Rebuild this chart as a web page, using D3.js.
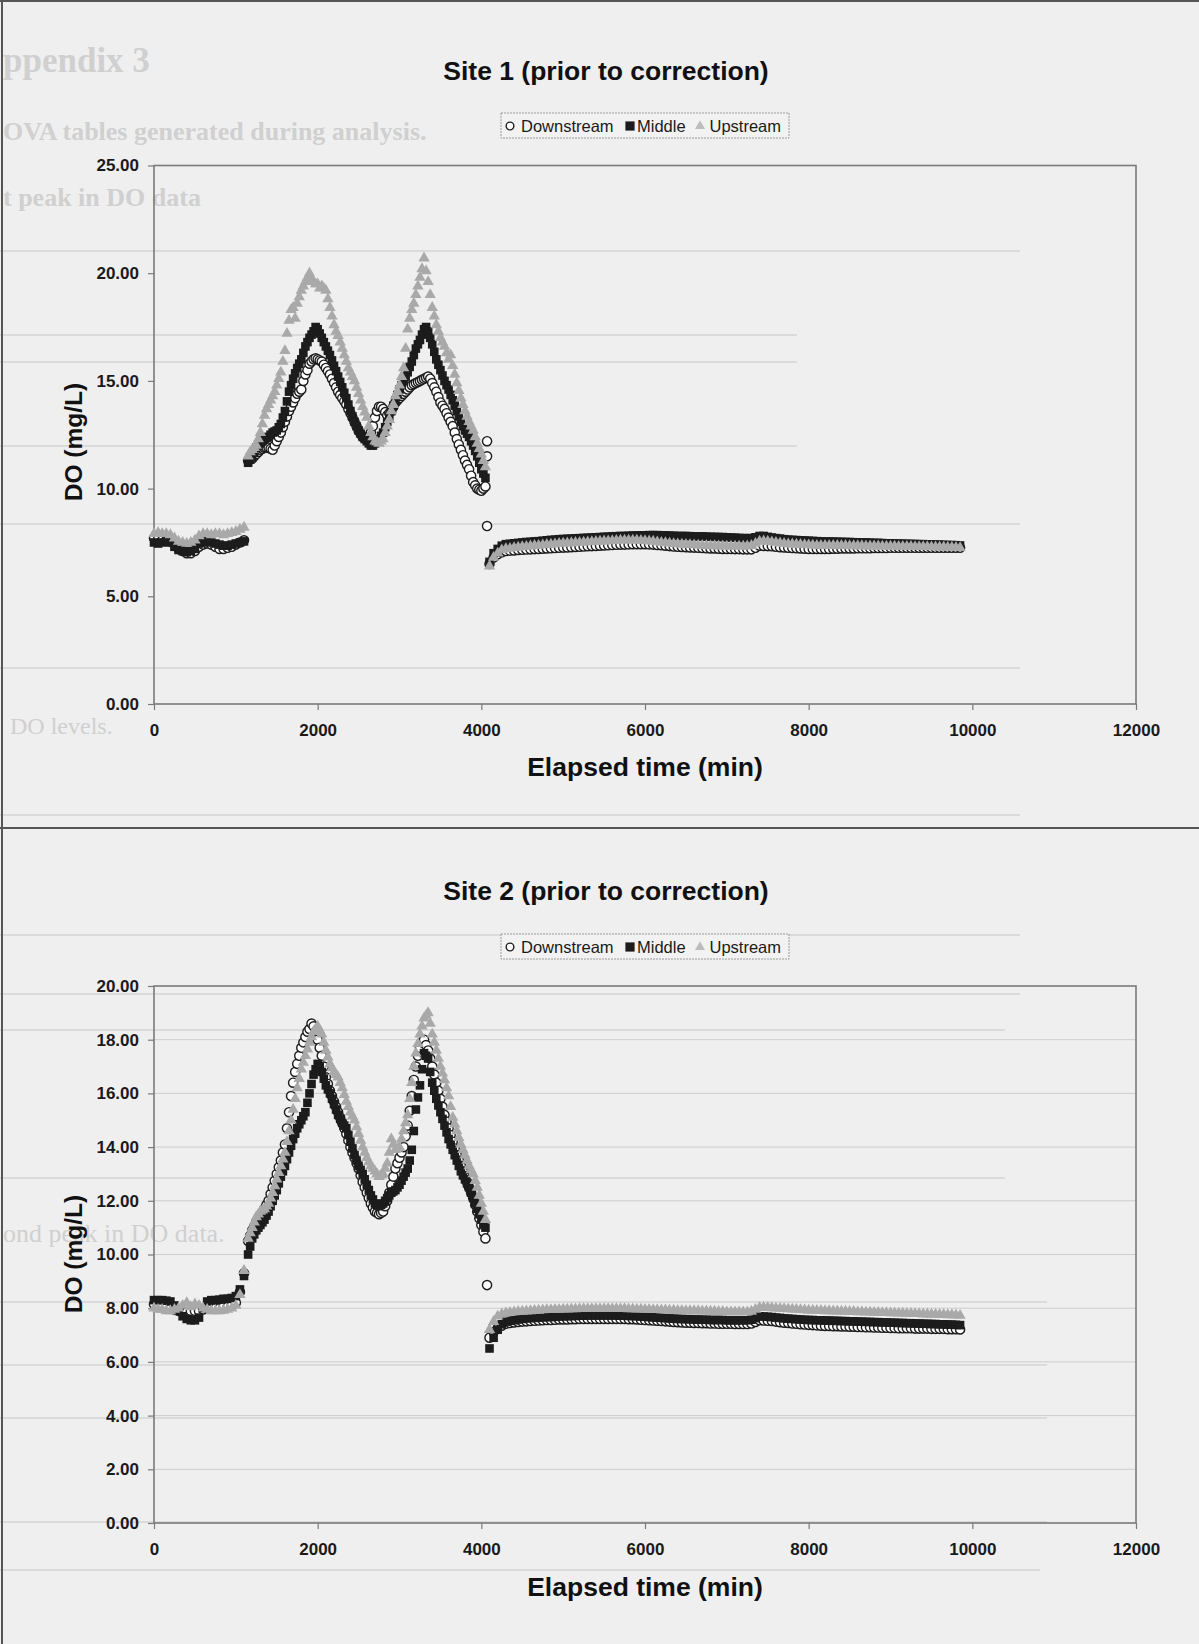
<!DOCTYPE html>
<html>
<head>
<meta charset="utf-8">
<script src="https://cdn.jsdelivr.net/npm/d3@7"></script>
<style>
  body { margin: 0; background: #efefef; }
  svg { display: block; }
  .tick text { font-family: "Liberation Sans", Arial, sans-serif; font-weight: bold; font-size: 17px; fill: #1a1a1a; }
</style>
</head>
<body>
<div id="chart"></div>
<script>
// sampling times (min) shared by every series
var times = [
  // first deployment
  0, 50, 100, 150, 200, 250, 300, 350, 400, 450, 500, 550, 600, 650, 700, 750, 800, 850, 900, 950, 1000, 1050, 1100,
  // diurnal peaks
  1150, 1175, 1200, 1225, 1250, 1275, 1300, 1325,
  1350, 1375, 1400, 1425, 1450, 1475, 1500, 1525,
  1550, 1575, 1600, 1625, 1650, 1675, 1700, 1725,
  1750, 1775, 1800, 1825, 1850, 1875, 1900, 1925,
  1950, 1975, 2000, 2025, 2050, 2075, 2100, 2125,
  2150, 2175, 2200, 2225, 2250, 2275, 2300, 2325,
  2350, 2375, 2400, 2425, 2450, 2475, 2500, 2525,
  2550, 2575, 2600, 2625, 2650, 2675, 2700, 2725,
  2750, 2775, 2800, 2825, 2850, 2875, 2900, 2925,
  2950, 2975, 3000, 3025, 3050, 3075, 3100, 3125,
  3150, 3175, 3200, 3225, 3250, 3275, 3300, 3325,
  3350, 3375, 3400, 3425, 3450, 3475, 3500, 3525,
  3550, 3575, 3600, 3625, 3650, 3675, 3700, 3725,
  3750, 3775, 3800, 3825, 3850, 3875, 3900, 3925,
  3950, 3975, 4000, 4025, 4050,
  // long flat stretch
  4100, 4150, 4200, 4250, 4300, 4350, 4400, 4450, 4500, 4550,
  4600, 4650, 4700, 4750, 4800, 4850, 4900, 4950, 5000, 5050,
  5100, 5150, 5200, 5250, 5300, 5350, 5400, 5450, 5500, 5550,
  5600, 5650, 5700, 5750, 5800, 5850, 5900, 5950, 6000, 6050,
  6100, 6150, 6200, 6250, 6300, 6350, 6400, 6450, 6500, 6550,
  6600, 6650, 6700, 6750, 6800, 6850, 6900, 6950, 7000, 7050,
  7100, 7150, 7200, 7250, 7300, 7350, 7400, 7450, 7500, 7550,
  7600, 7650, 7700, 7750, 7800, 7850, 7900, 7950, 8000, 8050,
  8100, 8150, 8200, 8250, 8300, 8350, 8400, 8450, 8500, 8550,
  8600, 8650, 8700, 8750, 8800, 8850, 8900, 8950, 9000, 9050,
  9100, 9150, 9200, 9250, 9300, 9350, 9400, 9450, 9500, 9550,
  9600, 9650, 9700, 9750, 9800, 9850
];

// Site 1, DO (mg/L)
var site1Down = [
  7.7, 7.65, 7.6, 7.6, 7.55, 7.4, 7.2, 7.1, 7.0, 7.0, 7.1, 7.3, 7.4, 7.45, 7.4, 7.3, 7.2, 7.2, 7.25, 7.3, 7.4, 7.5, 7.6,
  11.3, 11.35, 11.4, 11.5, 11.6, 11.7, 11.8, 11.85,
  11.9, 11.9, 11.9, 11.85, 11.8, 12.0, 12.2, 12.4,
  12.6, 12.85, 13.1, 13.35, 13.6, 13.8, 14.0, 14.2,
  14.4, 14.5, 14.6, 15.0, 15.3, 15.5, 15.8, 15.9,
  16.0, 16.05, 16.0, 15.95, 15.9, 15.75, 15.6, 15.45,
  15.3, 15.1, 14.9, 14.7, 14.5, 14.35, 14.2, 14.05,
  13.9, 13.7, 13.5, 13.3, 13.1, 12.9, 12.7, 12.55,
  12.4, 12.35, 12.3, 12.4, 12.6, 12.9, 13.3, 13.6,
  13.8, 13.8, 13.7, 13.55, 13.4, 13.5, 13.6, 13.8,
  14.0, 14.1, 14.2, 14.3, 14.4, 14.5, 14.6, 14.7,
  14.8, 14.85, 14.9, 14.95, 15.0, 15.05, 15.1, 15.15,
  15.2, 15.1, 14.9, 14.7, 14.5, 14.25, 14.0, 13.85,
  13.7, 13.5, 13.3, 13.1, 12.9, 12.6, 12.3, 12.05,
  11.8, 11.55, 11.3, 11.1, 10.9, 10.6, 10.3, 10.15,
  10.0, 9.95, 9.9, 10.0, 10.1,
  6.5, 6.8, 6.95, 7.05, 7.1, 7.12, 7.13, 7.15, 7.16, 7.17,
  7.18, 7.19, 7.2, 7.21, 7.22, 7.23, 7.24, 7.25, 7.26, 7.27,
  7.28, 7.29, 7.3, 7.31, 7.32, 7.33, 7.34, 7.35, 7.36, 7.37,
  7.38, 7.39, 7.4, 7.4, 7.41, 7.42, 7.42, 7.42, 7.42, 7.41,
  7.4, 7.38, 7.37, 7.35, 7.33, 7.31, 7.3, 7.29, 7.28, 7.27,
  7.26, 7.25, 7.24, 7.23, 7.22, 7.22, 7.21, 7.2, 7.2, 7.2,
  7.19, 7.19, 7.18, 7.18, 7.18, 7.25, 7.35, 7.34, 7.33, 7.32,
  7.3, 7.28, 7.27, 7.25, 7.24, 7.23, 7.22, 7.21, 7.2, 7.2,
  7.2, 7.2, 7.2, 7.2, 7.21, 7.21, 7.22, 7.22, 7.22, 7.22,
  7.23, 7.23, 7.23, 7.23, 7.24, 7.24, 7.24, 7.24, 7.25, 7.25,
  7.25, 7.25, 7.25, 7.25, 7.25, 7.25, 7.25, 7.25, 7.25, 7.25,
  7.25, 7.25, 7.25, 7.25, 7.25, 7.25
];
var site1Mid = [
  7.5, 7.45, 7.5, 7.55, 7.5, 7.3, 7.15, 7.1, 7.05, 7.1, 7.2, 7.45, 7.5, 7.55, 7.5, 7.45, 7.4, 7.35, 7.35, 7.4, 7.45, 7.5, 7.55,
  11.2, 11.35, 11.5, 11.7, 11.9, 12.0, 12.1, 12.2,
  12.3, 12.35, 12.4, 12.5, 12.6, 12.65, 12.7, 12.85,
  13.0, 13.3, 13.6, 14.05, 14.5, 14.8, 15.1, 15.35,
  15.6, 15.8, 16.0, 16.3, 16.6, 16.8, 17.0, 17.15,
  17.3, 17.5, 17.4, 17.2, 17.0, 16.8, 16.6, 16.4,
  16.2, 15.95, 15.7, 15.45, 15.2, 14.95, 14.7, 14.45,
  14.2, 13.9, 13.6, 13.35, 13.1, 12.9, 12.7, 12.55,
  12.4, 12.3, 12.2, 12.1, 12.0, 12.0, 12.1, 12.2,
  12.3, 12.45, 12.6, 12.85, 13.1, 13.35, 13.6, 13.85,
  14.1, 14.35, 14.6, 14.8, 15.0, 15.2, 15.4, 15.65,
  15.9, 16.2, 16.5, 16.7, 16.9, 17.15, 17.4, 17.5,
  17.3, 17.0, 16.7, 16.35, 16.0, 15.75, 15.5, 15.25,
  15.0, 14.8, 14.6, 14.35, 14.1, 13.85, 13.6, 13.35,
  13.1, 12.9, 12.7, 12.55, 12.4, 12.2, 12.0, 11.75,
  11.5, 11.2, 10.9, 10.7, 10.5,
  6.6, 7.0, 7.2, 7.35, 7.42, 7.44, 7.46, 7.48, 7.5, 7.52,
  7.53, 7.55, 7.56, 7.58, 7.6, 7.62, 7.63, 7.65, 7.66, 7.67,
  7.68, 7.69, 7.7, 7.71, 7.72, 7.73, 7.74, 7.75, 7.76, 7.77,
  7.78, 7.79, 7.8, 7.8, 7.81, 7.82, 7.82, 7.83, 7.83, 7.84,
  7.84, 7.84, 7.83, 7.83, 7.82, 7.81, 7.8, 7.8, 7.8, 7.79,
  7.78, 7.78, 7.78, 7.77, 7.76, 7.76, 7.75, 7.75, 7.74, 7.73,
  7.72, 7.71, 7.7, 7.7, 7.7, 7.74, 7.8, 7.8, 7.76, 7.73,
  7.7, 7.68, 7.65, 7.63, 7.62, 7.61, 7.6, 7.59, 7.58, 7.57,
  7.56, 7.55, 7.54, 7.54, 7.54, 7.53, 7.53, 7.52, 7.52, 7.51,
  7.5, 7.5, 7.5, 7.49, 7.48, 7.48, 7.47, 7.46, 7.46, 7.45,
  7.45, 7.44, 7.44, 7.43, 7.43, 7.42, 7.42, 7.41, 7.41, 7.4,
  7.4, 7.39, 7.38, 7.38, 7.37, 7.36
];
var site1Up = [
  7.9, 7.95, 7.9, 7.9, 7.85, 7.7, 7.55, 7.5, 7.45, 7.5, 7.6, 7.8, 7.9, 7.9, 7.85, 7.9, 7.9, 7.85, 7.9, 7.95, 8.0, 8.1, 8.2,
  11.5, 11.7, 11.8, 11.9, 12.0, 12.3, 12.6, 13.0,
  13.4, 13.7, 13.9, 14.1, 14.3, 14.5, 14.8, 15.1,
  15.4, 15.9, 16.4, 17.2, 17.8, 18.3, 18.4, 17.9,
  18.6, 18.9, 19.2, 19.4, 19.6, 19.8, 20.0, 19.7,
  19.6, 19.5, 19.5, 19.3, 19.4, 19.3, 19.2, 18.8,
  18.4, 18.0, 17.6, 17.3, 17.1, 16.8, 16.5, 16.2,
  15.9, 15.6, 15.4, 15.2, 15.0, 14.7, 14.4, 14.1,
  13.8, 13.55, 13.3, 12.9, 12.6, 12.4, 12.2, 12.15,
  12.1, 12.2, 12.3, 12.6, 12.9, 13.2, 13.6, 13.9,
  14.3, 14.5, 14.8, 15.2, 15.6, 16.5, 17.4, 17.9,
  18.3, 18.6, 19.0, 19.4, 19.8, 20.2, 20.7, 20.1,
  19.6, 19.0, 18.4, 18.0, 17.6, 17.3, 17.0, 16.8,
  16.6, 16.3, 16.0, 16.2, 15.7, 15.3, 14.9, 14.55,
  14.2, 13.9, 13.6, 13.35, 13.1, 12.9, 12.7, 12.4,
  12.1, 11.85, 11.6, 11.3, 11.0,
  6.4, 6.8, 7.0, 7.15, 7.2, 7.22, 7.25, 7.27, 7.3, 7.31,
  7.33, 7.35, 7.36, 7.38, 7.4, 7.41, 7.43, 7.45, 7.46, 7.47,
  7.48, 7.49, 7.5, 7.51, 7.52, 7.53, 7.54, 7.55, 7.56, 7.57,
  7.58, 7.59, 7.6, 7.6, 7.6, 7.6, 7.6, 7.59, 7.58, 7.56,
  7.55, 7.52, 7.5, 7.48, 7.46, 7.44, 7.43, 7.41, 7.4, 7.39,
  7.38, 7.37, 7.36, 7.35, 7.34, 7.34, 7.33, 7.33, 7.32, 7.32,
  7.32, 7.32, 7.32, 7.33, 7.35, 7.45, 7.55, 7.56, 7.55, 7.52,
  7.5, 7.47, 7.45, 7.43, 7.42, 7.41, 7.4, 7.39, 7.38, 7.37,
  7.36, 7.36, 7.35, 7.35, 7.35, 7.35, 7.35, 7.35, 7.34, 7.34,
  7.34, 7.34, 7.33, 7.33, 7.33, 7.33, 7.32, 7.32, 7.32, 7.32,
  7.31, 7.31, 7.31, 7.31, 7.3, 7.3, 7.3, 7.3, 7.29, 7.29,
  7.28, 7.28, 7.27, 7.27, 7.26, 7.25
];
// stray downstream readings at the probe change [time, DO]
var site1DownExtra = [[4070, 12.2], [4070, 11.5], [4070, 8.26]];

// Site 2, DO (mg/L)
var site2Down = [
  8.15, 8.1, 8.1, 8.05, 8.0, 7.95, 7.9, 7.85, 7.85, 7.9, 7.9, 7.9, 7.95, 8.0, 8.0, 8.0, 8.0, 8.05, 8.05, 8.1, 8.2, 8.6, 9.3,
  10.5, 10.7, 10.9, 11.05, 11.2, 11.3, 11.4, 11.55,
  11.7, 11.85, 12.0, 12.25, 12.5, 12.75, 13.0, 13.25,
  13.5, 13.8, 14.1, 14.7, 15.3, 15.9, 16.4, 16.8,
  17.1, 17.4, 17.7, 17.9, 18.1, 18.3, 18.4, 18.6,
  18.5, 18.3, 18.0, 17.7, 17.4, 17.0, 16.6, 16.35,
  16.1, 15.9, 15.7, 15.5, 15.3, 15.1, 14.9, 14.7,
  14.5, 14.25, 14.0, 13.8, 13.6, 13.4, 13.2, 12.95,
  12.7, 12.5, 12.3, 12.1, 11.9, 11.75, 11.6, 11.55,
  11.5, 11.55, 11.6, 11.8, 12.0, 12.3, 12.6, 12.9,
  13.2, 13.4, 13.6, 13.8, 14.0, 14.4, 14.8, 15.35,
  15.9, 16.5, 17.0, 17.4, 17.7, 17.9, 18.0, 17.8,
  17.6, 17.3, 17.0, 16.7, 16.4, 16.1, 15.8, 15.5,
  15.2, 14.95, 14.7, 14.45, 14.2, 13.95, 13.7, 13.5,
  13.3, 13.1, 12.9, 12.7, 12.5, 12.3, 12.1, 11.85,
  11.6, 11.35, 11.1, 10.85, 10.6,
  6.9, 7.1, 7.25, 7.35, 7.42, 7.45, 7.47, 7.49, 7.5, 7.51,
  7.52, 7.53, 7.54, 7.55, 7.56, 7.56, 7.57, 7.58, 7.58, 7.58,
  7.59, 7.59, 7.6, 7.6, 7.6, 7.6, 7.6, 7.6, 7.6, 7.6,
  7.6, 7.6, 7.6, 7.6, 7.59, 7.59, 7.58, 7.57, 7.56, 7.55,
  7.54, 7.53, 7.52, 7.51, 7.5, 7.49, 7.48, 7.47, 7.46, 7.46,
  7.45, 7.45, 7.44, 7.44, 7.43, 7.43, 7.42, 7.42, 7.42, 7.42,
  7.41, 7.41, 7.41, 7.41, 7.43, 7.49, 7.55, 7.54, 7.53, 7.52,
  7.5, 7.48, 7.46, 7.45, 7.43, 7.42, 7.4, 7.39, 7.38, 7.37,
  7.36, 7.35, 7.34, 7.34, 7.33, 7.33, 7.32, 7.32, 7.31, 7.31,
  7.3, 7.3, 7.29, 7.29, 7.28, 7.28, 7.27, 7.27, 7.26, 7.26,
  7.25, 7.25, 7.25, 7.25, 7.24, 7.24, 7.24, 7.24, 7.23, 7.23,
  7.23, 7.23, 7.22, 7.22, 7.22, 7.21
];
var site2Mid = [
  8.3, 8.3, 8.3, 8.28, 8.25, 8.1, 7.9, 7.7, 7.6, 7.55, 7.55, 7.65, 8.0, 8.25, 8.3, 8.3, 8.32, 8.35, 8.35, 8.38, 8.45, 8.7, 9.2,
  10.0, 10.3, 10.6, 10.75, 10.9, 11.0, 11.1, 11.2,
  11.3, 11.45, 11.6, 11.8, 12.0, 12.2, 12.4, 12.65,
  12.9, 13.1, 13.3, 13.55, 13.8, 14.05, 14.3, 14.5,
  14.7, 14.85, 15.0, 15.15, 15.3, 15.65, 16.0, 16.35,
  16.7, 16.9, 17.1, 17.0, 16.8, 16.55, 16.3, 16.15,
  16.0, 15.8, 15.6, 15.4, 15.2, 15.05, 14.9, 14.8,
  14.7, 14.45, 14.2, 13.95, 13.7, 13.5, 13.3, 13.15,
  13.0, 12.8, 12.6, 12.4, 12.2, 12.05, 11.9, 11.85,
  11.8, 11.85, 11.9, 12.0, 12.1, 12.2, 12.3, 12.35,
  12.4, 12.5, 12.6, 12.75, 12.9, 13.05, 13.2, 13.5,
  13.9, 14.6, 15.4, 15.85, 16.3, 16.9, 17.5, 17.4,
  17.3, 16.8, 16.4, 16.1, 15.8, 15.55, 15.3, 15.05,
  14.8, 14.55, 14.3, 14.1, 13.9, 13.7, 13.5, 13.3,
  13.1, 12.95, 12.8, 12.65, 12.5, 12.3, 12.1, 11.9,
  11.7, 11.5, 11.3, 11.15, 11.0,
  6.5, 6.9, 7.2, 7.4, 7.5, 7.53, 7.55, 7.58, 7.6, 7.62,
  7.63, 7.64, 7.65, 7.66, 7.67, 7.67, 7.68, 7.69, 7.7, 7.7,
  7.71, 7.71, 7.72, 7.72, 7.73, 7.73, 7.73, 7.73, 7.73, 7.73,
  7.73, 7.73, 7.72, 7.72, 7.71, 7.71, 7.7, 7.69, 7.68, 7.67,
  7.66, 7.65, 7.64, 7.63, 7.62, 7.61, 7.6, 7.6, 7.59, 7.59,
  7.58, 7.58, 7.57, 7.57, 7.56, 7.56, 7.56, 7.56, 7.55, 7.55,
  7.55, 7.55, 7.55, 7.55, 7.57, 7.63, 7.7, 7.69, 7.68, 7.67,
  7.65, 7.64, 7.62, 7.61, 7.6, 7.59, 7.58, 7.57, 7.56, 7.56,
  7.55, 7.55, 7.54, 7.54, 7.53, 7.53, 7.52, 7.52, 7.51, 7.51,
  7.5, 7.5, 7.49, 7.49, 7.48, 7.48, 7.47, 7.47, 7.46, 7.46,
  7.45, 7.45, 7.44, 7.44, 7.43, 7.43, 7.42, 7.42, 7.41, 7.41,
  7.4, 7.4, 7.39, 7.39, 7.38, 7.37
];
var site2Up = [
  8.0, 7.95, 7.95, 7.9, 7.9, 7.95, 8.0, 8.1, 8.2, 8.05, 8.15, 8.1, 8.0, 7.95, 7.9, 7.9, 7.9, 7.92, 7.95, 8.0, 8.1, 8.5, 9.4,
  10.6, 10.8, 11.0, 11.2, 11.4, 11.5, 11.6, 11.65,
  11.7, 11.8, 11.9, 12.1, 12.3, 12.55, 12.8, 13.05,
  13.3, 13.55, 13.8, 14.2, 14.6, 15.0, 15.4, 15.8,
  16.2, 16.55, 16.9, 17.15, 17.4, 17.65, 17.9, 18.1,
  18.3, 18.4, 18.5, 18.35, 18.2, 17.9, 17.6, 17.35,
  17.1, 16.95, 16.8, 16.7, 16.6, 16.4, 16.2, 15.95,
  15.7, 15.5, 15.3, 15.15, 15.0, 14.75, 14.5, 14.25,
  14.0, 13.8, 13.6, 13.45, 13.3, 13.2, 13.1, 13.0,
  12.9, 12.95, 13.0, 13.2, 13.4, 13.8, 14.3, 14.1,
  13.9, 13.95, 14.0, 14.3, 14.6, 14.9, 15.2, 15.8,
  16.4, 17.0, 17.5, 17.85, 18.2, 18.5, 18.8, 18.9,
  19.0, 18.6, 18.2, 17.9, 17.6, 17.3, 17.0, 16.75,
  16.5, 16.2, 15.9, 15.5, 15.1, 14.85, 14.6, 14.35,
  14.1, 13.9, 13.7, 13.5, 13.3, 13.15, 13.0, 12.75,
  12.5, 12.2, 11.9, 11.6, 11.3,
  7.2, 7.5, 7.7, 7.78, 7.82, 7.84, 7.86, 7.87, 7.88, 7.89,
  7.9, 7.91, 7.92, 7.93, 7.94, 7.94, 7.95, 7.95, 7.96, 7.96,
  7.97, 7.97, 7.98, 7.98, 7.98, 7.98, 7.98, 7.98, 7.98, 7.98,
  7.98, 7.98, 7.98, 7.98, 7.97, 7.97, 7.96, 7.96, 7.95, 7.95,
  7.94, 7.94, 7.93, 7.93, 7.92, 7.92, 7.91, 7.91, 7.9, 7.9,
  7.9, 7.9, 7.89, 7.89, 7.88, 7.88, 7.87, 7.87, 7.86, 7.86,
  7.86, 7.86, 7.86, 7.86, 7.88, 7.95, 8.02, 8.02, 8.02, 8.01,
  8.0, 7.99, 7.98, 7.97, 7.96, 7.95, 7.94, 7.93, 7.92, 7.92,
  7.91, 7.91, 7.9, 7.9, 7.89, 7.89, 7.88, 7.88, 7.87, 7.87,
  7.86, 7.86, 7.85, 7.85, 7.84, 7.84, 7.83, 7.83, 7.82, 7.82,
  7.81, 7.81, 7.8, 7.8, 7.79, 7.79, 7.78, 7.78, 7.77, 7.77,
  7.76, 7.76, 7.75, 7.75, 7.74, 7.73
];
var site2DownExtra = [[4070, 8.86]];

var seriesNames = ["Downstream", "Middle", "Upstream"];
var xTicks = [0, 2000, 4000, 6000, 8000, 10000, 12000];
var site1YTicks = [0, 5, 10, 15, 20, 25];
var site2YTicks = [0, 2, 4, 6, 8, 10, 12, 14, 16, 18, 20];

var W = 1199, H = 1644;
var plotLeft = 154, plotRight = 1136;
var FONT = "'Liberation Sans', Arial, sans-serif";
var SERIF = "'Liberation Serif', 'Times New Roman', serif";

var svg = d3.select("#chart").append("svg")
    .attr("width", W)
    .attr("height", H);

svg.append("rect")
    .attr("width", W)
    .attr("height", H)
    .attr("fill", "#efefef");

drawBackdrop();

var symbols = {
    Downstream: d3.symbol().type(d3.symbolCircle).size(66),
    Middle: d3.symbol().type(d3.symbolSquare).size(74),
    Upstream: d3.symbol().type(d3.symbolTriangle).size(56)
};
var markStyle = {
    Downstream: {fill: "#ffffff", stroke: "#1c1c1c", width: 1.4},
    Middle: {fill: "#1c1c1c", stroke: "none", width: 0},
    Upstream: {fill: "#a9a9a9", stroke: "none", width: 0}
};

drawSite({
    title: "Site 1 (prior to correction)",
    values: [site1Down, site1Mid, site1Up],
    extra: site1DownExtra,
    yMax: 25, yTicks: site1YTicks, grid: false,
    top: 165.5, bottom: 704,
    titleY: 80, legendTop: 113, xTitleY: 776, yTitleY: 442
});

drawSite({
    title: "Site 2 (prior to correction)",
    values: [site2Down, site2Mid, site2Up],
    extra: site2DownExtra,
    yMax: 20, yTicks: site2YTicks, grid: true,
    top: 986, bottom: 1523,
    titleY: 900, legendTop: 934, xTitleY: 1596, yTitleY: 1254
});

function drawSite(cfg) {
    var g = svg.append("g");

    var x = d3.scaleLinear().domain([0, 12000]).range([plotLeft, plotRight]);
    var y = d3.scaleLinear().domain([0, cfg.yMax]).range([cfg.bottom, cfg.top]);

    // light horizontal gridlines (only the second chart has them)
    if (cfg.grid) {
        g.selectAll(".grid")
            .data(cfg.yTicks.filter(function(d) { return d > 0 && d < cfg.yMax; }))
            .enter()
            .append("line")
            .attr("x1", plotLeft).attr("x2", plotRight)
            .attr("y1", function(d) { return y(d); })
            .attr("y2", function(d) { return y(d); })
            .attr("stroke", "#cdcdcd")
            .attr("stroke-width", 1);
    }

    // axes
    var yAxis = d3.axisLeft(y)
        .tickValues(cfg.yTicks)
        .tickFormat(d3.format(".2f"))
        .tickSize(6)
        .tickPadding(9);
    var xAxis = d3.axisBottom(x)
        .tickValues(xTicks)
        .tickFormat(d3.format("d"))
        .tickSize(6)
        .tickPadding(14);

    var ya = g.append("g").attr("transform", "translate(" + plotLeft + ",0)").call(yAxis);
    var xa = g.append("g").attr("transform", "translate(0," + cfg.bottom + ")").call(xAxis);
    [ya, xa].forEach(function(a) {
        a.select(".domain").remove();
        a.selectAll(".tick line").attr("stroke", "#7a7a7a").attr("stroke-width", 1.2);
    });

    // plot area frame
    g.append("rect")
        .attr("x", plotLeft)
        .attr("y", cfg.top)
        .attr("width", plotRight - plotLeft)
        .attr("height", cfg.bottom - cfg.top)
        .attr("fill", "none")
        .attr("stroke", "#7a7a7a")
        .attr("stroke-width", 1.6);

    // markers, drawn in series order so upstream lands on top
    seriesNames.forEach(function(name, k) {
        var pts = times.map(function(t, i) { return {t: t, v: cfg.values[k][i]}; })
            .filter(function(d) { return d.v != null; });
        if (name == "Downstream") {
            cfg.extra.forEach(function(e) { pts.push({t: e[0], v: e[1]}); });
        }
        var st = markStyle[name];
        g.append("g").selectAll("path")
            .data(pts)
            .enter()
            .append("path")
            .attr("d", symbols[name])
            .attr("transform", function(d) { return "translate(" + x(d.t) + "," + y(d.v) + ")"; })
            .attr("fill", st.fill)
            .attr("stroke", st.stroke)
            .attr("stroke-width", st.width);
    });

    // title
    g.append("text")
        .attr("x", 606)
        .attr("y", cfg.titleY)
        .attr("text-anchor", "middle")
        .style("font-family", FONT)
        .style("font-weight", "bold")
        .style("font-size", "26.5px")
        .attr("fill", "#111")
        .text(cfg.title);

    // legend
    var lg = g.append("g").attr("transform", "translate(501," + cfg.legendTop + ")");
    lg.append("rect")
        .attr("width", 288).attr("height", 25)
        .attr("fill", "#f2f2f2")
        .attr("stroke", "#9a9a9a")
        .attr("stroke-width", 1)
        .attr("stroke-dasharray", "2,1");
    var legendPos = [{mx: 9, tx: 20}, {mx: 129, tx: 136}, {mx: 199, tx: 208.5}];
    var legendSym = {
        Downstream: d3.symbol().type(d3.symbolCircle).size(46),
        Middle: d3.symbol().type(d3.symbolSquare).size(85),
        Upstream: d3.symbol().type(d3.symbolTriangle).size(44)
    };
    seriesNames.forEach(function(name, k) {
        var st = markStyle[name];
        lg.append("path")
            .attr("d", legendSym[name])
            .attr("transform", "translate(" + legendPos[k].mx + ",13)")
            .attr("fill", name == "Upstream" ? "#bdbdbd" : st.fill)
            .attr("stroke", st.stroke)
            .attr("stroke-width", st.width);
        lg.append("text")
            .attr("x", legendPos[k].tx)
            .attr("y", 18.5)
            .style("font-family", FONT)
            .style("font-size", "16.5px")
            .attr("fill", "#1a1a1a")
            .text(name);
    });

    // axis titles
    g.append("text")
        .attr("x", (plotLeft + plotRight) / 2)
        .attr("y", cfg.xTitleY)
        .attr("text-anchor", "middle")
        .style("font-family", FONT)
        .style("font-weight", "bold")
        .style("font-size", "26.5px")
        .attr("fill", "#111")
        .text("Elapsed time (min)");

    g.append("text")
        .attr("transform", "translate(82," + cfg.yTitleY + ") rotate(-90)")
        .attr("text-anchor", "middle")
        .style("font-family", FONT)
        .style("font-weight", "bold")
        .style("font-size", "24.5px")
        .attr("fill", "#111")
        .text("DO (mg/L)");
}

// faint scanned page behind the charts (only the parts inside the scan are visible)
function drawBackdrop() {
    var b = svg.append("g").attr("fill", "#d0d0d0").style("font-family", SERIF);
    b.append("text").attr("x", 3).attr("y", 72).style("font-size", "35px").style("font-weight", "bold").text("ppendix 3");
    b.append("text").attr("x", 3).attr("y", 140).style("font-size", "26px").style("font-weight", "bold").text("OVA tables generated during analysis.");
    b.append("text").attr("x", 3).attr("y", 206).style("font-size", "26px").style("font-weight", "bold").text("t peak in DO data");
    b.append("text").attr("x", 10).attr("y", 734).style("font-size", "24px").text("DO levels.");
    b.append("text").attr("x", 3).attr("y", 1242).style("font-size", "26px").text("ond peak in DO data.");

    var rule = svg.append("g").attr("stroke", "#d5d5d5").attr("stroke-width", 1.5);
    [[251, 1020], [335, 797], [362, 797], [446, 797], [524, 1020], [668, 1020],
     [815, 1020], [935, 1020], [994, 1020], [1030, 1005], [1178, 1005],
     [1302, 1047], [1365, 1047], [1418, 1047], [1522, 1047], [1570, 1040]].forEach(function(r) {
        rule.append("line").attr("x1", 0).attr("x2", r[1]).attr("y1", r[0]).attr("y2", r[0]);
    });

    // page edges of the scan
    var edge = svg.append("g").attr("stroke", "#555").attr("stroke-width", 2);
    edge.append("line").attr("x1", 0).attr("x2", W).attr("y1", 1).attr("y2", 1);
    edge.append("line").attr("x1", 2).attr("x2", 2).attr("y1", 0).attr("y2", H);
    edge.append("line").attr("x1", 0).attr("x2", W).attr("y1", 828).attr("y2", 828);
}
</script>
</body>
</html>
